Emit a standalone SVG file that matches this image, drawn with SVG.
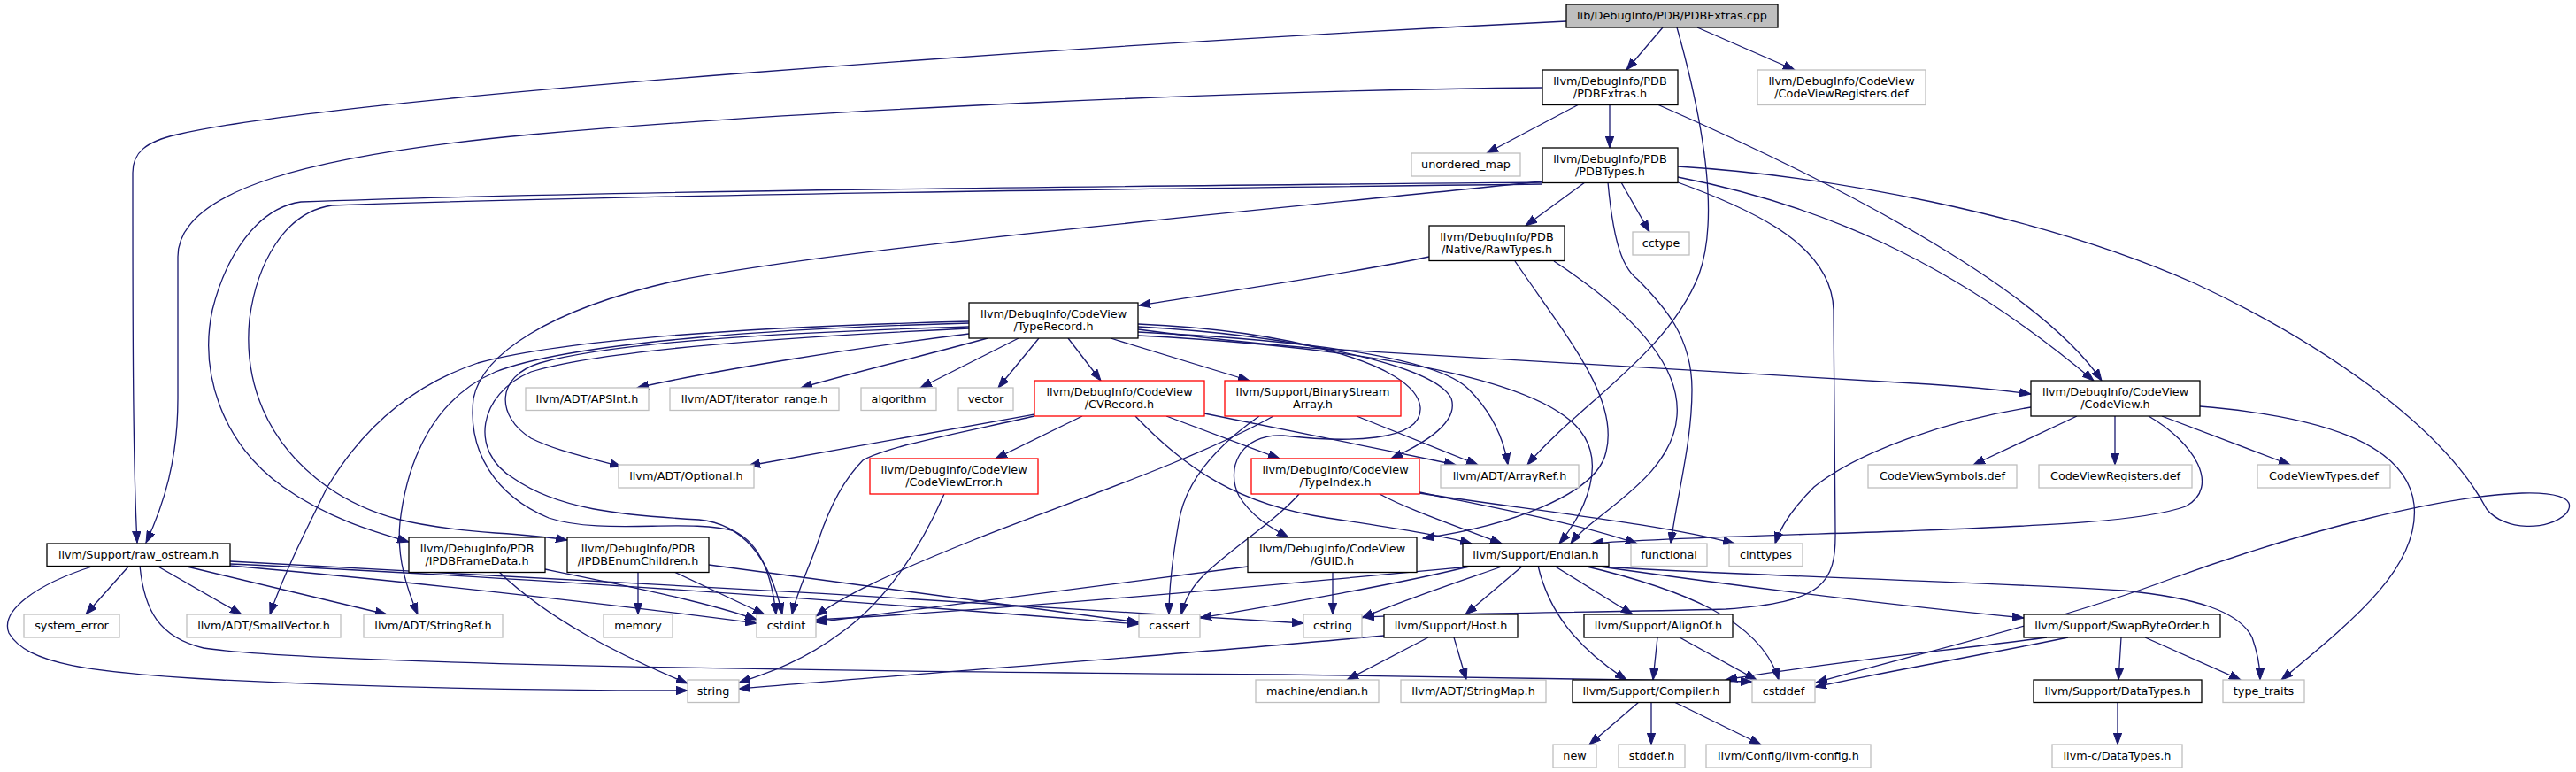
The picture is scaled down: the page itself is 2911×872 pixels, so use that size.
<svg xmlns="http://www.w3.org/2000/svg" width="2911" height="872" viewBox="0 0 2911 872">
<style>
.n rect{fill:#ffffff;stroke:#000000;stroke-width:1.3}
.g rect{stroke:#bfbfbf}
.r rect{stroke:#ff0000}
.root rect{fill:#bfbfbf}
text{font-family:"DejaVu Sans","Liberation Sans",sans-serif;font-size:12.8px;text-anchor:middle;fill:#000000}
#edges path{fill:none;stroke:#191970;stroke-width:1.3;marker-end:url(#a)}
</style>
<defs>
<marker id="a" markerUnits="userSpaceOnUse" markerWidth="14" markerHeight="10" viewBox="0 0 14 10" refX="13" refY="5" orient="auto"><path d="M0,0.3 L13,5 L0,9.7 Z" fill="#191970" stroke="#191970" stroke-width="1"/></marker>
</defs>
<rect x="0" y="0" width="2911" height="872" fill="#ffffff"/>
<g id="edges">
<path d="M1879,31 L1838,79"/>
<path d="M1918,31 L2028,79"/>
<path d="M1770,24 C1200,52 380,110 200,152 C165,160 150,172 150,195 C150,350 150,520 155,613"/>
<path d="M1895,31 C1920,120 1945,240 1920,310 C1885,400 1780,460 1726,525"/>
<path d="M1784,118 L1680,173"/>
<path d="M1819,118 L1819,167"/>
<path d="M1743,99 C1400,102 900,125 600,152 C350,175 201,215 201,290 L201,450 C201,520 185,570 165,613"/>
<path d="M1873,118 C2060,200 2300,320 2375,430"/>
<path d="M1791,206 L1724,255"/>
<path d="M1832,206 L1864,262"/>
<path d="M1896,200 C2050,230 2200,290 2366,430"/>
<path d="M1896,188 C2060,198 2300,240 2480,320 C2620,385 2760,480 2810,575 C2830,600 2880,600 2900,580 C2915,560 2880,556 2850,557 C2760,560 2600,600 2450,655 C2330,700 2180,735 2052,771"/>
<path d="M1817,206 C1822,260 1830,300 1850,315 C1880,345 1912,380 1912,440 C1912,500 1895,560 1888,614"/>
<path d="M1896,206 C1990,240 2070,280 2072,350 L2074,600 C2075,660 2060,680 1950,688 C1800,692 1650,692 1540,697"/>
<path d="M1743,205 C1400,240 950,280 760,318 C620,350 545,400 535,450 C528,510 560,560 620,585 C680,605 780,585 830,600 C860,615 872,650 877,694"/>
<path d="M1743,206 C1300,210 700,215 340,228 C290,235 255,290 240,350 C225,420 250,500 320,550 C370,585 420,600 462,612"/>
<path d="M1743,208 C1300,213 720,220 375,232 C320,240 290,300 282,360 C275,430 300,500 370,550 C420,585 470,595 560,602 C590,604 615,606 641,610"/>
<path d="M1615,290 C1520,310 1380,330 1287,345"/>
<path d="M1712,295 C1770,380 1830,450 1815,510 C1805,560 1700,595 1608,608"/>
<path d="M1756,295 C1840,350 1900,410 1895,470 C1890,540 1800,580 1775,614"/>
<path d="M1095,377 C950,395 800,420 720,438"/>
<path d="M1116,382 C1050,400 960,422 905,438"/>
<path d="M1151,382 L1040,438"/>
<path d="M1174,382 L1128,438"/>
<path d="M1207,382 L1244,430"/>
<path d="M1255,382 L1412,430"/>
<path d="M1286,372 C1360,382 1420,388 1480,393 L2180,434 C2230,437 2265,441 2295,445"/>
<path d="M1286,366 C1450,373 1600,410 1605,460 C1608,500 1520,500 1450,492 C1400,490 1385,530 1400,560 C1415,585 1440,598 1456,607"/>
<path d="M1286,369 C1450,378 1620,410 1640,450 C1650,480 1600,505 1572,518"/>
<path d="M1286,375 C1450,383 1620,400 1660,440 C1690,470 1700,500 1704,525"/>
<path d="M1286,379 C1500,390 1720,420 1780,480 C1820,520 1790,580 1762,614"/>
<path d="M1095,369 C900,375 700,385 610,410 C560,425 560,470 600,495 C630,510 670,518 702,527"/>
<path d="M1095,363 C900,368 650,380 540,410 C450,440 400,500 370,550 C345,600 320,650 305,694"/>
<path d="M1095,365 C900,370 650,385 560,420 C490,450 460,520 452,590 C448,630 460,665 472,694"/>
<path d="M1095,371 C900,380 680,395 600,420 C540,445 530,510 580,540 C630,575 700,582 790,587 C840,592 870,630 884,694"/>
<path d="M1169,468 C1050,490 930,510 846,526"/>
<path d="M1169,470 C1080,490 1000,505 975,520 C950,545 935,580 925,610 C915,640 900,670 895,694"/>
<path d="M1223,470 L1125,518"/>
<path d="M1283,470 C1340,530 1400,570 1500,585 C1580,597 1630,605 1663,614"/>
<path d="M1318,470 L1446,518"/>
<path d="M1361,467 C1450,485 1550,505 1645,525"/>
<path d="M1533,470 L1670,525"/>
<path d="M1423,470 C1380,500 1340,540 1332,590 C1325,630 1321,660 1321,694"/>
<path d="M1439,470 C1350,520 1200,570 1100,610 C1000,650 950,675 922,696"/>
<path d="M1067,558 C1040,620 1000,680 950,715 C910,745 870,760 835,771"/>
<path d="M1468,558 C1440,590 1390,620 1360,650 C1345,665 1338,680 1335,694"/>
<path d="M1559,558 C1590,575 1640,592 1697,614"/>
<path d="M1604,556 C1680,572 1780,590 1850,614"/>
<path d="M1604,557 C1720,575 1880,592 1960,614"/>
<path d="M2347,470 L2230,525"/>
<path d="M2390,470 L2390,525"/>
<path d="M2443,470 L2588,525"/>
<path d="M2295,460 C2200,475 2100,510 2050,550 C2025,575 2012,595 2006,614"/>
<path d="M2428,470 C2480,500 2510,550 2470,572 C2420,590 2300,594 2150,600 C2000,605 1870,608 1798,614"/>
<path d="M2486,459 C2620,470 2720,500 2728,570 C2735,640 2660,700 2578,768"/>
<path d="M146,639 L97,694"/>
<path d="M177,639 L273,694"/>
<path d="M207,639 L437,694"/>
<path d="M260,634 C600,650 1100,680 1473,704"/>
<path d="M260,637 C600,652 1000,682 1287,705"/>
<path d="M260,639 C500,660 750,690 855,704"/>
<path d="M158,639 C163,690 180,720 230,732 C350,750 900,758 1450,762 L1980,770"/>
<path d="M107,639 C40,660 0,690 10,715 C30,750 100,760 250,768 C450,778 650,780 777,780"/>
<path d="M616,643 C700,660 800,680 855,700"/>
<path d="M564,646 C620,700 700,740 777,772"/>
<path d="M721,646 L721,694"/>
<path d="M762,646 L864,694"/>
<path d="M801,638 L1287,703"/>
<path d="M1506,646 L1506,694"/>
<path d="M1410,640 L922,703"/>
<path d="M1673,639 C1500,655 1150,688 922,700"/>
<path d="M1664,639 C1580,660 1450,682 1356,698"/>
<path d="M1700,639 C1640,660 1580,680 1539,698"/>
<path d="M1721,639 L1656,694"/>
<path d="M1738,639 C1750,690 1780,730 1838,768"/>
<path d="M1756,639 L1845,694"/>
<path d="M1789,639 C1900,665 1990,700 2010,768"/>
<path d="M1794,639 C1950,650 2200,655 2400,667 C2480,675 2530,690 2545,720 C2552,740 2554,755 2554,768"/>
<path d="M1808,640 C1950,660 2100,680 2287,698"/>
<path d="M1564,718 C1350,738 1050,760 835,778"/>
<path d="M1614,720 L1522,768"/>
<path d="M1643,720 L1657,768"/>
<path d="M1873,720 L1868,768"/>
<path d="M1898,720 L1985,768"/>
<path d="M2313,720 C2200,735 2050,750 1950,768"/>
<path d="M2337,720 C2250,738 2150,755 2051,776"/>
<path d="M2397,720 L2394,768"/>
<path d="M2424,720 L2532,768"/>
<path d="M1852,793 L1796,841"/>
<path d="M1866,793 L1866,841"/>
<path d="M1892,793 L1990,841"/>
<path d="M2393,793 L2393,841"/>
</g>
<g id="n0" class="n root"><rect x="1770" y="5" width="239" height="26"/><text x="1889.5" y="22.3">lib/DebugInfo/PDB/PDBExtras.cpp</text></g>
<g id="n1" class="n"><rect x="1743" y="79" width="153" height="39.5"/><text x="1819.5" y="96">llvm/DebugInfo/PDB</text><text x="1819.5" y="109.7">/PDBExtras.h</text></g>
<g id="n2" class="n g"><rect x="1986" y="79" width="190" height="39.5"/><text x="2081" y="96">llvm/DebugInfo/CodeView</text><text x="2081" y="109.7">/CodeViewRegisters.def</text></g>
<g id="n3" class="n g"><rect x="1595" y="173" width="123" height="26"/><text x="1656.5" y="190.3">unordered_map</text></g>
<g id="n4" class="n"><rect x="1743" y="167" width="153" height="39.5"/><text x="1819.5" y="184">llvm/DebugInfo/PDB</text><text x="1819.5" y="197.7">/PDBTypes.h</text></g>
<g id="n5" class="n"><rect x="1615" y="255" width="153" height="39.5"/><text x="1691.5" y="272">llvm/DebugInfo/PDB</text><text x="1691.5" y="285.7">/Native/RawTypes.h</text></g>
<g id="n6" class="n g"><rect x="1845" y="262" width="64" height="26"/><text x="1877" y="279.3">cctype</text></g>
<g id="n7" class="n"><rect x="1095" y="342" width="191" height="40"/><text x="1190.5" y="359.2">llvm/DebugInfo/CodeView</text><text x="1190.5" y="372.9">/TypeRecord.h</text></g>
<g id="n8" class="n g"><rect x="594" y="438" width="139" height="25.5"/><text x="663.5" y="455">llvm/ADT/APSInt.h</text></g>
<g id="n9" class="n g"><rect x="757" y="438" width="191" height="25.5"/><text x="852.5" y="455">llvm/ADT/iterator_range.h</text></g>
<g id="n10" class="n g"><rect x="973" y="438" width="85" height="25.5"/><text x="1015.5" y="455">algorithm</text></g>
<g id="n11" class="n g"><rect x="1083" y="438" width="62" height="25.5"/><text x="1114" y="455">vector</text></g>
<g id="n12" class="n r"><rect x="1169" y="430" width="192" height="40"/><text x="1265" y="447.2">llvm/DebugInfo/CodeView</text><text x="1265" y="460.9">/CVRecord.h</text></g>
<g id="n13" class="n r"><rect x="1384" y="430" width="199" height="40"/><text x="1483.5" y="447.2">llvm/Support/BinaryStream</text><text x="1483.5" y="460.9">Array.h</text></g>
<g id="n14" class="n"><rect x="2295" y="430" width="191" height="40"/><text x="2390.5" y="447.2">llvm/DebugInfo/CodeView</text><text x="2390.5" y="460.9">/CodeView.h</text></g>
<g id="n15" class="n g"><rect x="699" y="525" width="153" height="26"/><text x="775.5" y="542.3">llvm/ADT/Optional.h</text></g>
<g id="n16" class="n r"><rect x="983" y="518" width="190" height="40"/><text x="1078" y="535.2">llvm/DebugInfo/CodeView</text><text x="1078" y="548.9">/CodeViewError.h</text></g>
<g id="n17" class="n r"><rect x="1414" y="518" width="190" height="40"/><text x="1509" y="535.2">llvm/DebugInfo/CodeView</text><text x="1509" y="548.9">/TypeIndex.h</text></g>
<g id="n18" class="n g"><rect x="1628" y="525" width="156" height="26"/><text x="1706" y="542.3">llvm/ADT/ArrayRef.h</text></g>
<g id="n19" class="n g"><rect x="2111" y="525" width="168" height="26"/><text x="2195" y="542.3">CodeViewSymbols.def</text></g>
<g id="n20" class="n g"><rect x="2304" y="525" width="173" height="26"/><text x="2390.5" y="542.3">CodeViewRegisters.def</text></g>
<g id="n21" class="n g"><rect x="2551" y="525" width="150" height="26"/><text x="2626" y="542.3">CodeViewTypes.def</text></g>
<g id="n22" class="n"><rect x="53" y="614" width="207" height="25.5"/><text x="156.5" y="631">llvm/Support/raw_ostream.h</text></g>
<g id="n23" class="n"><rect x="462" y="607" width="154" height="39.5"/><text x="539" y="624">llvm/DebugInfo/PDB</text><text x="539" y="637.7">/IPDBFrameData.h</text></g>
<g id="n24" class="n"><rect x="641" y="607" width="160" height="39.5"/><text x="721" y="624">llvm/DebugInfo/PDB</text><text x="721" y="637.7">/IPDBEnumChildren.h</text></g>
<g id="n25" class="n"><rect x="1410" y="607" width="191" height="39.5"/><text x="1505.5" y="624">llvm/DebugInfo/CodeView</text><text x="1505.5" y="637.7">/GUID.h</text></g>
<g id="n26" class="n"><rect x="1653" y="614" width="165" height="25.5"/><text x="1735.5" y="631">llvm/Support/Endian.h</text></g>
<g id="n27" class="n g"><rect x="1843" y="614" width="86" height="25.5"/><text x="1886" y="631">functional</text></g>
<g id="n28" class="n g"><rect x="1954" y="614" width="83" height="25.5"/><text x="1995.5" y="631">cinttypes</text></g>
<g id="n29" class="n g"><rect x="27" y="694" width="108" height="26"/><text x="81" y="711.3">system_error</text></g>
<g id="n30" class="n g"><rect x="211" y="694" width="174" height="26"/><text x="298" y="711.3">llvm/ADT/SmallVector.h</text></g>
<g id="n31" class="n g"><rect x="411" y="694" width="157" height="26"/><text x="489.5" y="711.3">llvm/ADT/StringRef.h</text></g>
<g id="n32" class="n g"><rect x="682" y="694" width="78" height="26"/><text x="721" y="711.3">memory</text></g>
<g id="n33" class="n g"><rect x="855" y="694" width="67" height="26"/><text x="888.5" y="711.3">cstdint</text></g>
<g id="n34" class="n g"><rect x="1287" y="694" width="69" height="26"/><text x="1321.5" y="711.3">cassert</text></g>
<g id="n35" class="n g"><rect x="1473" y="694" width="66" height="26"/><text x="1506" y="711.3">cstring</text></g>
<g id="n36" class="n"><rect x="1564" y="694" width="151" height="26"/><text x="1639.5" y="711.3">llvm/Support/Host.h</text></g>
<g id="n37" class="n"><rect x="1790" y="694" width="168" height="26"/><text x="1874" y="711.3">llvm/Support/AlignOf.h</text></g>
<g id="n38" class="n"><rect x="2287" y="694" width="222" height="26"/><text x="2398" y="711.3">llvm/Support/SwapByteOrder.h</text></g>
<g id="n39" class="n g"><rect x="777" y="768" width="58" height="25.5"/><text x="806" y="785">string</text></g>
<g id="n40" class="n g"><rect x="1419" y="768" width="139" height="25.5"/><text x="1488.5" y="785">machine/endian.h</text></g>
<g id="n41" class="n g"><rect x="1583" y="768" width="164" height="25.5"/><text x="1665" y="785">llvm/ADT/StringMap.h</text></g>
<g id="n42" class="n"><rect x="1777" y="768" width="178" height="25.5"/><text x="1866" y="785">llvm/Support/Compiler.h</text></g>
<g id="n43" class="n g"><rect x="1980" y="768" width="71" height="25.5"/><text x="2015.5" y="785">cstddef</text></g>
<g id="n44" class="n"><rect x="2298" y="768" width="190" height="25.5"/><text x="2393" y="785">llvm/Support/DataTypes.h</text></g>
<g id="n45" class="n g"><rect x="2512" y="768" width="92" height="25.5"/><text x="2558" y="785">type_traits</text></g>
<g id="n46" class="n g"><rect x="1755" y="841" width="49" height="26"/><text x="1779.5" y="858.3">new</text></g>
<g id="n47" class="n g"><rect x="1829" y="841" width="75" height="26"/><text x="1866.5" y="858.3">stddef.h</text></g>
<g id="n48" class="n g"><rect x="1928" y="841" width="186" height="26"/><text x="2021" y="858.3">llvm/Config/llvm-config.h</text></g>
<g id="n49" class="n g"><rect x="2319" y="841" width="147" height="26"/><text x="2392.5" y="858.3">llvm-c/DataTypes.h</text></g>
</svg>
